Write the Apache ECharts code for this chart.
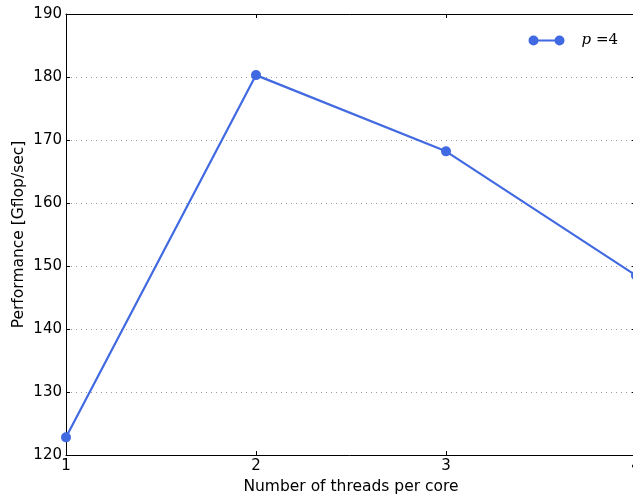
<!DOCTYPE html>
<html><head><meta charset="utf-8">
<script src="https://cdn.jsdelivr.net/npm/echarts@6/dist/echarts.min.js"></script>
<style>html,body{margin:0;padding:0;background:#fff}#c{width:633px;height:496px}</style>
</head><body><div id="c"></div>
<script>
const threads = [1, 2, 3, 4];
const perf = [122.8, 180.3, 168.2, 148.5];
const yTicks = [120, 130, 140, 150, 160, 170, 180, 190];
const seriesName = 'p=4';

const chart = echarts.init(document.getElementById('c'), null, {renderer: 'canvas'});
const font = 'DejaVu Sans';
const axisBase = {
  axisLine: {show: true, onZero: false, lineStyle: {color: '#000', width: 1}},
  axisTick: {show: true, inside: true, length: 4, lineStyle: {color: '#000'}},
};
chart.setOption({
  animation: false,
  backgroundColor: '#fff',
  grid: {left: 66, top: 14, width: 570, height: 441, containLabel: false, outerBoundsMode: 'none'},
  legend: {
    right: 10, top: 28,
    data: [{name: seriesName, icon: 'path://M0,5A5,5 0 1,1 10,5A5,5 0 1,1 0,5ZM9,4L27,4L27,6L9,6ZM26,5A5,5 0 1,1 36,5A5,5 0 1,1 26,5Z'}],
    itemWidth: 36, itemHeight: 10,
    formatter: () => '{i|p}{n| =4}',
    textStyle: {
      padding: [0, 0, 0, 12],
      rich: {
        i: {fontFamily: 'DejaVu Serif', fontStyle: 'italic', fontSize: 15, color: '#000'},
        n: {fontFamily: 'DejaVu Serif', fontSize: 15, color: '#000'}
      }
    }
  },
  xAxis: [{
    type: 'value', min: 1, max: 4, interval: 1,
    name: 'Number of threads per core', nameLocation: 'middle', nameGap: 24,
    nameMoveOverlap: false,
    nameTextStyle: {fontFamily: font, fontSize: 15.5, color: '#000'},
    axisLabel: {fontFamily: font, fontSize: 15, color: '#000', margin: 4},
    splitLine: {show: false},
    ...axisBase
  }, {
    type: 'value', min: 1, max: 4, interval: 1, position: 'top',
    axisLabel: {show: false}, splitLine: {show: false},
    ...axisBase
  }],
  yAxis: [{
    type: 'value', min: 120, max: 190, interval: 10,
    name: 'Performance [Gflop/sec]', nameLocation: 'middle', nameGap: 39,
    nameMoveOverlap: false,
    nameTextStyle: {fontFamily: font, fontSize: 15.5, color: '#000'},
    axisLabel: {fontFamily: font, fontSize: 15, color: '#000', margin: 4,
      formatter: v => yTicks.includes(v) ? String(v) : ''},
    splitLine: {show: true, lineStyle: {color: '#999', type: [1, 4], width: 1}},
    ...axisBase
  }, {
    type: 'value', min: 120, max: 190, interval: 10, position: 'right',
    axisLabel: {show: false}, splitLine: {show: false},
    ...axisBase
  }],
  series: [{
    name: seriesName, type: 'line',
    data: threads.map((t, i) => [t, perf[i]]),
    symbol: 'circle', symbolSize: 10,
    lineStyle: {color: '#4169E1', width: 2.2},
    itemStyle: {color: '#4169E1'},
    clip: false
  }]
});
</script></body></html>
